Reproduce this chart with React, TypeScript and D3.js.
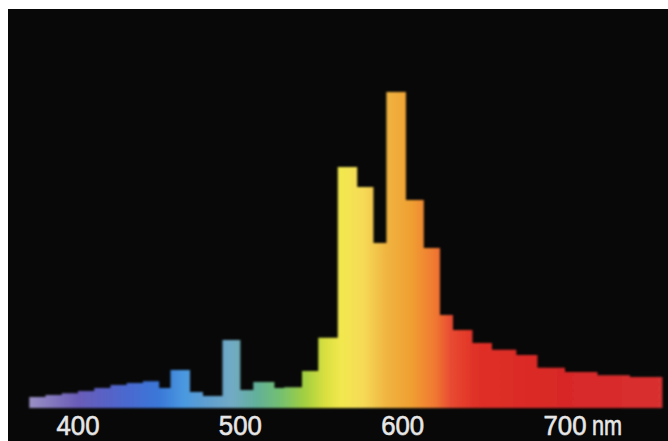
import React from 'react';
import * as d3 from 'd3';

const W = 668;
const H = 441;

// bin edges (nm) and relative intensity of each bin (peak = 100)
const binEdges = [370, 380, 390, 400, 410, 420, 430, 440, 450, 457, 469, 477, 489, 500, 508, 521, 527, 538, 548, 560, 572, 582, 590, 602, 613, 623, 631, 643, 655, 670, 683, 700, 720, 740, 760];
const intensity = [3.5, 4.1, 4.7, 5.4, 6.3, 7.3, 7.9, 8.5, 6.3, 12.0, 5.1, 3.8, 21.5, 5.7, 8.2, 6.3, 6.6, 11.7, 22.2, 76.3, 69.9, 52.2, 100, 65.8, 50.6, 29.4, 24.7, 20.6, 18.4, 16.8, 12.7, 11.4, 10.4, 9.8];

const tickValues = [400, 500, 600, 700];
const tickLabels = ['400', '500', '600', '700'];
const unitLabel = 'nm';

// spectral colour stops
const colorNm = [370, 400, 430, 450, 465, 480, 495, 510, 525, 540, 552, 562, 575, 590, 605, 620, 630, 645, 700, 760];
const colorHex = ['#9a90c4', '#6a5cb8', '#4a68d0', '#3a78d8', '#4a98e0', '#60a0d0', '#72aac4', '#62b09a', '#74c070', '#a4d040', '#d8e040', '#f2e84e', '#f6dc58', '#f0b440', '#f0a032', '#f07830', '#e84a30', '#e03028', '#d82828', '#d83030'];

export default function App() {
  const x = d3.scaleLinear().domain([400, 700]).range([78, 565]);
  const y = d3.scaleLinear().domain([0, 100]).range([408, 92]);

  const pts = binEdges.map((e, i) => ({ nm: e, v: intensity[Math.min(i, intensity.length - 1)] }));
  const area = d3
    .area<{ nm: number; v: number }>()
    .x((d) => x(d.nm))
    .y0(y(0))
    .y1((d) => y(d.v))
    .curve(d3.curveStepAfter);

  const x0 = x(colorNm[0]);
  const x1 = x(colorNm[colorNm.length - 1]);

  return (
    <svg width={W} height={H} style={{ position: 'absolute', left: 0, top: 0, display: 'block' }}>
      <defs>
        <linearGradient id="spec" gradientUnits="userSpaceOnUse" x1={x0} x2={x1} y1={0} y2={0}>
          {colorNm.map((n, i) => (
            <stop key={n} offset={(x(n) - x0) / (x1 - x0)} stopColor={colorHex[i]} />
          ))}
        </linearGradient>
        <filter id="soft" x="-5%" y="-5%" width="110%" height="110%">
          <feGaussianBlur stdDeviation="0.9" />
        </filter>
      </defs>
      <rect x={0} y={0} width={W} height={H} fill="#ffffff" />
      <rect x={8} y={9} width={W - 8} height={H - 9} fill="#080808" />
      <path d={area(pts) || ''} fill="url(#spec)" filter="url(#soft)" />
      <g fill="#e6e6e6" stroke="#e6e6e6" strokeWidth={0.6} fontFamily="'Liberation Sans', Arial, sans-serif" fontSize={28}>
        {tickValues.map((t, i) => (
          <text key={t} x={x(t)} y={435} textAnchor="middle" textLength={43} lengthAdjust="spacingAndGlyphs">
            {tickLabels[i]}
          </text>
        ))}
        <text x={x(700) + 27} y={435} textLength={30} lengthAdjust="spacingAndGlyphs">
          {unitLabel}
        </text>
      </g>
    </svg>
  );
}
